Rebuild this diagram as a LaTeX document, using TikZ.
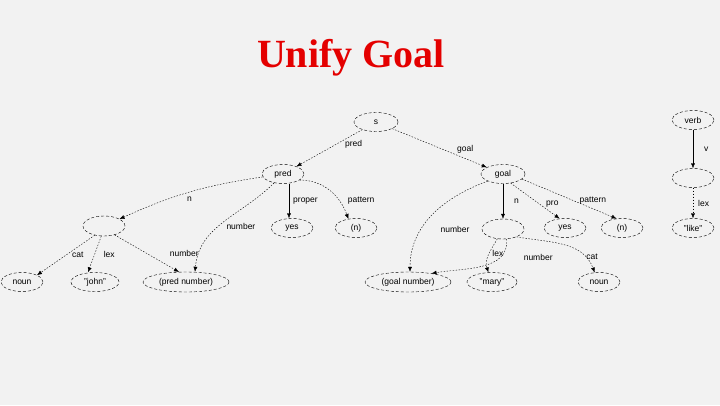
\documentclass[tikz,border=0pt]{standalone}
\usepackage{fontspec}
\setmainfont{Liberation Serif}
\setsansfont{Liberation Sans}
\usepackage{tikz}
\usetikzlibrary{arrows.meta,shapes.geometric}
\definecolor{slidegray}{RGB}{242,242,242}
\definecolor{titlered}{RGB}{228,0,0}
\tikzset{
  fs/.style={ellipse, draw, dash pattern=on 3pt off 2pt, minimum width=42pt,
    minimum height=19pt, inner sep=1pt, font=\sffamily\fontsize{8.5}{9}\selectfont},
  edge/.style={-{Latex[length=5pt,width=4pt]}, dash pattern=on 1.5pt off 1.5pt, thin},
  solidedge/.style={-{Latex[length=5pt,width=4pt]}, thin},
  lbl/.style={font=\sffamily\fontsize{8.5}{9}\selectfont, inner sep=1pt}
}

\begin{document}
\begin{tikzpicture}[x=1pt, y=-1pt]
  \useasboundingbox[fill=slidegray] (0,0) rectangle (720,405);
  \node[font=\bfseries\fontsize{40}{44}\selectfont, text=titlered] (title) at (351,58) {Unify Goal};
  % top level
  \node[fs, minimum width=44pt] (s) at (376,122) {s};
  \node[fs] (pred) at (283,174) {pred};
  \node[fs, minimum width=44pt] (goal) at (503,174) {goal};
  % second level
  \node[fs, minimum height=20pt] (np1) at (104,226) {};
  \node[fs] (yes1) at (292,228) {yes};
  \node[fs] (pat1) at (356,228) {(n)};
  \node[fs, minimum height=20pt] (np2) at (503,229) {};
  \node[fs] (yes2) at (565,228) {yes};
  \node[fs] (pat2) at (622,228) {(n)};
  % leaves
  \node[fs] (noun1) at (22,282) {noun};
  \node[fs, minimum width=48pt] (john) at (95,282) {"john"};
  \node[fs, minimum width=86pt, minimum height=20pt] (prednum) at (186,282) {(pred number)};
  \node[fs, minimum width=86pt, minimum height=20pt] (goalnum) at (408,282) {(goal number)};
  \node[fs, minimum width=50pt] (mary) at (492,282) {"mary"};
  \node[fs] (noun2) at (599,282) {noun};
  % verb part
  \node[fs] (verb) at (693,120) {verb};
  \node[fs] (vp) at (693,178) {};
  \node[fs] (like) at (693,228) {"like"};

  \draw[edge] (s) -- node[lbl, pos=0.4, right=8pt] {pred} (pred);
  \draw[edge] (s) -- node[lbl, pos=0.75, above=3pt, xshift=2pt] {goal} (goal);
  \draw[edge] (pred) to[bend right=8] node[lbl, pos=0.5, below=4pt] {n} (np1);
  \draw[edge] (pred.225) to[out=225, in=85] node[lbl, pos=0.55, right=6pt] {number} ([xshift=9pt]prednum.north);
  \draw[solidedge] ([xshift=6pt]pred.south) -- node[lbl, right=3pt] {proper} ([xshift=-3pt]yes1.north);
  \draw[edge] (pred.340) to[out=0, in=110] node[lbl, pos=0.7, right=8pt] {pattern} (pat1.130);
  \draw[solidedge] (goal) -- node[lbl, right=10pt] {n} (np2);
  \draw[edge] (goal.310) -- node[lbl, pos=0.6, right=5pt] {pro} (yes2.120);
  \draw[edge] (goal.345) -- node[lbl, pos=0.75, above=3pt] {pattern} (pat2.120);
  \draw[edge] (goal.205) to[out=200, in=90] node[lbl, pos=0.65, right=18pt] {number} ([xshift=2pt]goalnum.north);
  \draw[edge] (np1.225) -- node[lbl, pos=0.5, right=5pt] {cat} (noun1.north east);
  \draw[edge] (np1.255) -- node[lbl, pos=0.5, right=8pt] {lex} ([xshift=-7pt]john.north);
  \draw[edge] (np1.320) -- node[lbl, pos=0.5, right=22pt] {number} (prednum.125);
  \draw[edge] (np2.240) to[out=240, in=110] node[lbl, pos=0.45, right=2pt] {lex} (mary.110);
  \draw[edge] (np2.290) to[out=-85, in=10] node[lbl, pos=0.25, right=22pt] {number} (goalnum.20);
  \draw[edge] (np2.330) to[out=-10, in=110] node[lbl, pos=0.8, right=0pt] {cat} (noun2.115);
  \draw[solidedge] (verb) -- node[lbl, right=10pt] {v} (vp);
  \draw[edge] (vp) -- node[lbl, right=4pt] {lex} (like);
\end{tikzpicture}
\end{document}
